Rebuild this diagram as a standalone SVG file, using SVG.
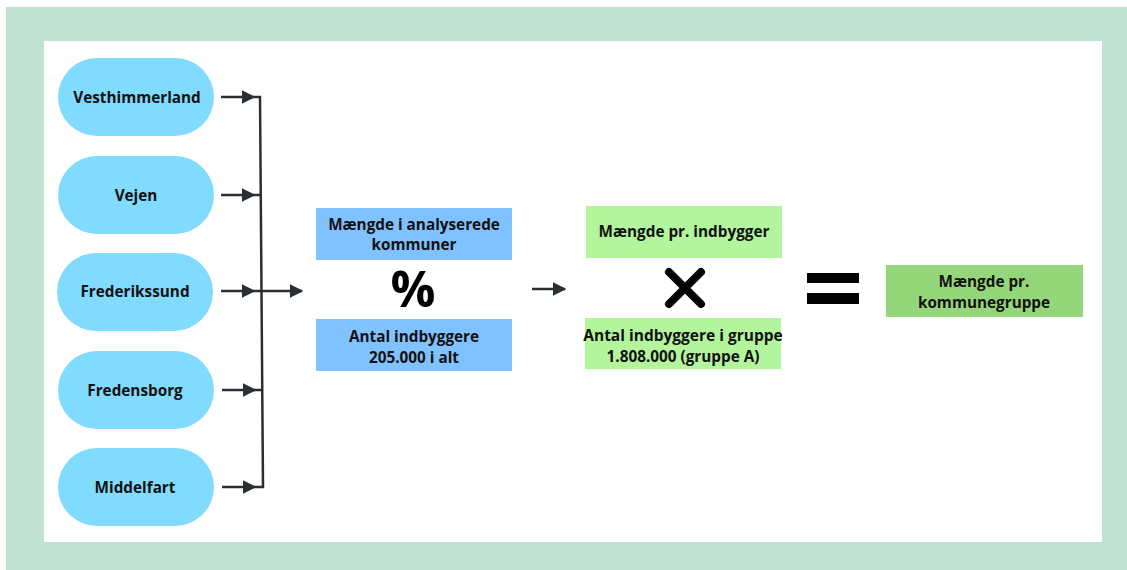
<svg xmlns="http://www.w3.org/2000/svg" width="1127" height="570" viewBox="0 0 1127 570">
<defs>
<style>
.t{font-family:"Open Sans","Liberation Sans",sans-serif;font-weight:700;font-size:15.3px;fill:#111;text-anchor:middle}
.pill{fill:#80DBFF}
.blue{fill:#80C1FF}
.lg{fill:#B2F59D}
.dg{fill:#96D67A}
.c{stroke:#2b2f33;stroke-width:2.5;fill:none}
</style>
<marker id="ah" viewBox="0 0 10 10" refX="9" refY="5" markerWidth="5.5" markerHeight="5.5" markerUnits="strokeWidth" orient="auto">
<path d="M0,0 L10,5 L0,10 z" fill="#2b2f33"/>
</marker>
</defs>
<rect x="0" y="0" width="1127" height="570" fill="#fff"/>
<rect x="6" y="7" width="1121" height="563" fill="#BFE2D3"/>
<rect x="44" y="41" width="1058" height="501" fill="#fff"/>

<g id="connectors">
<line class="c" x1="221" y1="97" x2="254" y2="97" marker-end="url(#ah)"/>
<line class="c" x1="221" y1="195" x2="254" y2="195" marker-end="url(#ah)"/>
<line class="c" x1="221" y1="291" x2="254" y2="291" marker-end="url(#ah)"/>
<line class="c" x1="222" y1="390" x2="255" y2="390" marker-end="url(#ah)"/>
<line class="c" x1="222" y1="487" x2="255" y2="487" marker-end="url(#ah)"/>
<polyline class="c" points="254,97 260,97 263,487 255,487"/>
<line class="c" x1="254" y1="195" x2="261" y2="195"/>
<line class="c" x1="254" y1="390" x2="262" y2="390"/>
<line class="c" x1="254" y1="291" x2="302" y2="291" marker-end="url(#ah)"/>
<line class="c" x1="532" y1="289" x2="565" y2="289" marker-end="url(#ah)"/>
</g>

<g id="vesthimmerland"><rect class="pill" x="58" y="58" width="156" height="78" rx="39"/><text class="t" x="137" y="103">Vesthimmerland</text></g>
<g id="vejen"><rect class="pill" x="58" y="156" width="156" height="78" rx="39"/><text class="t" x="136" y="201">Vejen</text></g>
<g id="frederikssund"><rect class="pill" x="57" y="253" width="156" height="78" rx="39"/><text class="t" x="135" y="297">Frederikssund</text></g>
<g id="fredensborg"><rect class="pill" x="58" y="351" width="156" height="78" rx="39"/><text class="t" x="135" y="396">Fredensborg</text></g>
<g id="middelfart"><rect class="pill" x="58" y="448" width="156" height="78" rx="39"/><text class="t" x="135" y="493">Middelfart</text></g>

<g id="maengde-analyserede"><rect class="blue" x="316" y="208" width="196" height="52"/><text class="t" x="414" y="230">Mængde i analyserede</text><text class="t" x="414" y="250">kommuner</text></g>
<g id="pct"><text x="413" y="307" style="font-family:'Open Sans','Liberation Sans',sans-serif;font-weight:700;font-size:50px;fill:#000;text-anchor:middle">%</text></g>
<g id="antal-indbyggere"><rect class="blue" x="316" y="319" width="196" height="52"/><text class="t" x="414" y="342">Antal indbyggere</text><text class="t" x="414" y="363">205.000 i alt</text></g>

<g id="maengde-pr-indbygger"><rect class="lg" x="586" y="206" width="196" height="52"/><text class="t" x="684" y="237">Mængde pr. indbygger</text></g>
<g id="times"><path d="M669,272 L701,304 M701,272 L669,304" stroke="#000" stroke-width="8" stroke-linecap="round"/></g>
<g id="antal-gruppe"><rect class="lg" x="585" y="318" width="196" height="51"/><text class="t" x="683" y="341" style="font-size:15.5px">Antal indbyggere i gruppe</text><text class="t" x="683" y="362">1.808.000 (gruppe A)</text></g>

<g id="equals"><rect x="807" y="273" width="52" height="10" fill="#000"/><rect x="807" y="293" width="52" height="11" fill="#000"/></g>

<g id="maengde-kommunegruppe"><rect class="dg" x="886" y="265" width="197" height="52"/><text class="t" x="984" y="287">Mængde pr.</text><text class="t" x="984" y="308">kommunegruppe</text></g>
</svg>
